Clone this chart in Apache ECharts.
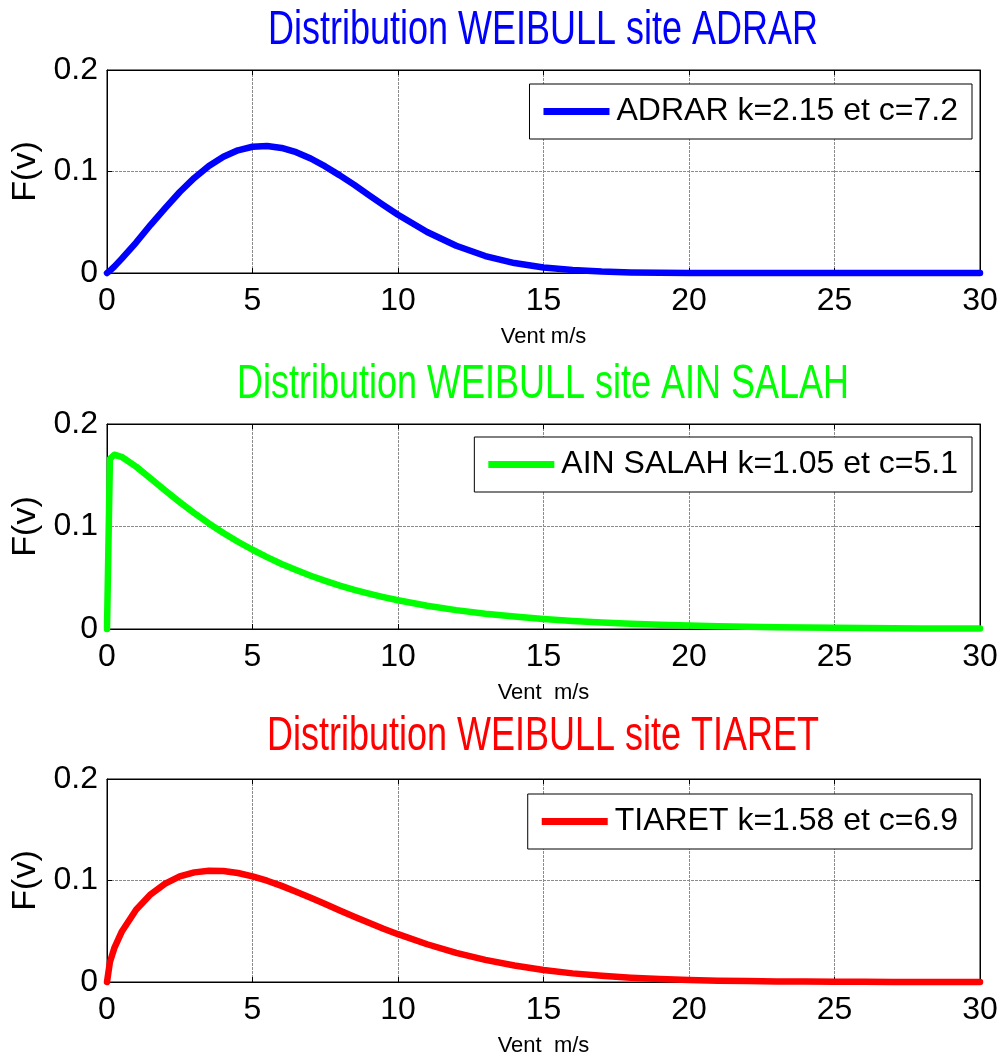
<!DOCTYPE html>
<html>
<head>
<meta charset="utf-8">
<style>
html,body{margin:0;padding:0;background:#fff;}
#chart{width:1003px;height:1061px;}
</style>
<script src="https://cdn.jsdelivr.net/npm/echarts@6/dist/echarts.min.js"></script>
</head>
<body>
<div id="chart"></div>
<script>
// ---- data ----
const vent = [0,0.1,0.25,0.5,1,1.5,2,2.5,3,3.5,4,4.5,5,5.5,6,6.5,7,7.5,8,8.5,9,9.5,10,11,12,13,14,15,16,17,18,19,20,21,22,23,24,25,26,27,28,29,30];
const adrar = [0,0.0022,0.0063,0.0139,0.030,0.0475,0.064,0.0798,0.0937,0.1054,0.1145,0.1209,0.1244,0.1251,0.1232,0.119,0.1128,0.105,0.0962,0.0868,0.0767,0.0669,0.0574,0.0404,0.0268,0.0167,0.0098,0.0055,0.0029,0.0014,0.0006,0.0003,0.0001,0,0,0,0,0,0,0,0,0,0];
const ainSalah = [0,0.166,0.170,0.168,0.1584,0.1469,0.1351,0.1238,0.1131,0.103,0.0937,0.0851,0.0773,0.0701,0.0634,0.0575,0.0519,0.047,0.0423,0.0382,0.0345,0.0311,0.028,0.0227,0.0184,0.0149,0.0121,0.0098,0.0079,0.0063,0.0051,0.0041,0.0033,0.0026,0.0021,0.0017,0.0014,0.0011,0.0009,0.0007,0.0006,0.0005,0.0004];
const tiaret = [0,0.0196,0.0333,0.0492,0.0712,0.0864,0.0969,0.104,0.108,0.1097,0.1094,0.1074,0.1041,0.0998,0.0947,0.089,0.083,0.0768,0.0705,0.0643,0.0584,0.0525,0.0471,0.0372,0.0287,0.0218,0.0162,0.0119,0.0085,0.0061,0.0042,0.0029,0.0019,0.0013,0.0009,0.0006,0.0004,0.0003,0.0002,0.0001,0.0001,0.0001,0.0001];
const seriesNames = ['ADRAR k=2.15 et c=7.2','AIN SALAH k=1.05 et c=5.1','TIARET k=1.58 et c=6.9'];
const titles = ['Distribution WEIBULL site ADRAR','Distribution WEIBULL site AIN SALAH','Distribution WEIBULL site TIARET'];
const xNames = ['Vent m/s','Vent  m/s','Vent  m/s'];
const yName = 'F(v)';
const xTicks = {min:0, max:30, interval:5};
const yTicks = {min:0, max:0.2, interval:0.1};
const colors = ['#0000ff','#00ff00','#ff0000'];
const values = [adrar, ainSalah, tiaret];

// ---- layout ----
const gridTops = [70, 424, 779];
const gridHeights = [203, 205, 203];
const legendTops = [84, 437, 794];
const titleYs = [31, 385, 737];
const SANS = '"Liberation Sans", Arial, sans-serif';

const grids = [], xAxes = [], yAxes = [], series = [], legends = [], graphics = [];
for (let i = 0; i < 3; i++) {
  grids.push({left:107, top:gridTops[i], width:873, height:gridHeights[i], show:true, borderColor:'#000', borderWidth:1, backgroundColor:'#fff', containLabel:false, outerBoundsMode:'none'});
  const tickStyle = {show:true, inside:true, length:5, lineStyle:{color:'#000', width:1}};
  xAxes.push({
    type:'value', gridIndex:i, position:'bottom', min:xTicks.min, max:xTicks.max, interval:xTicks.interval,
    axisLine:{show:true, onZero:false, lineStyle:{color:'#000', width:1}},
    axisTick:tickStyle,
    axisLabel:{color:'#000', fontSize:32, fontFamily:SANS, margin:12},
    splitLine:{show:true, lineStyle:{color:'#8c8c8c', width:1, type:[3,1]}},
    name:xNames[i], nameLocation:'middle', nameGap:53,
    nameTextStyle:{color:'#000', fontSize:22, fontFamily:SANS}
  });
  xAxes.push({
    type:'value', gridIndex:i, position:'top', min:xTicks.min, max:xTicks.max, interval:xTicks.interval,
    axisLine:{show:true, onZero:false, lineStyle:{color:'#000', width:1}},
    axisTick:tickStyle, axisLabel:{show:false}, splitLine:{show:false}
  });
  yAxes.push({
    type:'value', gridIndex:i, position:'left', min:yTicks.min, max:yTicks.max, interval:yTicks.interval,
    axisLine:{show:true, onZero:false, lineStyle:{color:'#000', width:1}},
    axisTick:tickStyle,
    axisLabel:{color:'#000', fontSize:32, fontFamily:SANS, margin:9},
    splitLine:{show:true, lineStyle:{color:'#8c8c8c', width:1, type:[3,1]}},
    name:yName, nameLocation:'middle', nameGap:56, nameRotate:90,
    nameTextStyle:{color:'#000', fontSize:34, fontFamily:SANS}
  });
  yAxes.push({
    type:'value', gridIndex:i, position:'right', min:yTicks.min, max:yTicks.max, interval:yTicks.interval,
    axisLine:{show:true, onZero:false, lineStyle:{color:'#000', width:1}},
    axisTick:tickStyle, axisLabel:{show:false}, splitLine:{show:false}
  });
  series.push({
    type:'line', name:seriesNames[i], xAxisIndex:2*i, yAxisIndex:2*i,
    data: vent.map((v, j) => [v, values[i][j]]),
    showSymbol:false, symbol:'none', clip:false,
    lineStyle:{color:colors[i], width:6.5, join:'round', cap:'round'},
    itemStyle:{color:colors[i]}, z:3
  });
  legends.push({
    data:[seriesNames[i]], right:31, top:legendTops[i], orient:'horizontal',
    icon:'rect', itemWidth:66, itemHeight:7, itemGap:0,
    padding:[8,14,8,14], borderColor:'#000', borderWidth:1, backgroundColor:'#fff',
    textStyle:{color:'#000', fontSize:32, fontFamily:SANS, lineHeight:39, padding:[0,0,0,2]},
    selectedMode:false, z:10
  });
  graphics.push({
    type:'text', x:543, y:titleYs[i], scaleY:1.35,
    style:{text:titles[i], fill:colors[i], font:'36px ' + SANS, textAlign:'center', textVerticalAlign:'middle'}
  });
}

const chart = echarts.init(document.getElementById('chart'), null, {renderer:'canvas'});
chart.setOption({
  animation:false,
  backgroundColor:'#fff',
  grid:grids, xAxis:xAxes, yAxis:yAxes, series:series, legend:legends, graphic:graphics
});
</script>
</body>
</html>
